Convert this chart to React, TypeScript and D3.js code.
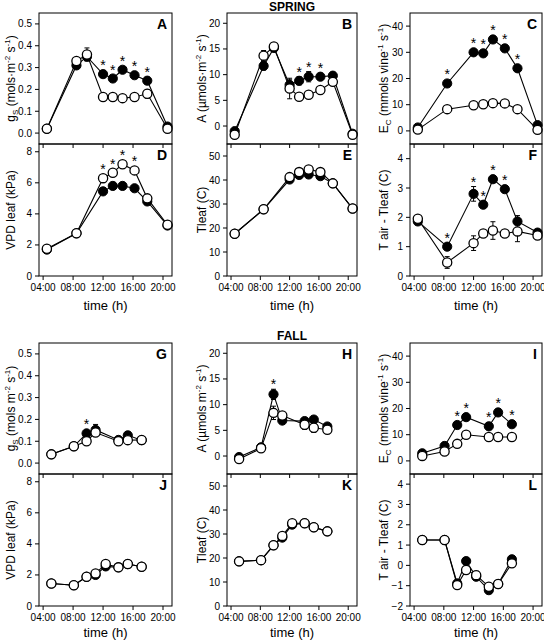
import React from 'react';
import * as d3 from 'd3';

// ---------- shared axis data ----------
const hourTicks = [4, 8, 12, 16, 20];
const hourTickLabels = ['04:00', '08:00', '12:00', '16:00', '20:00'];

// ---------- time points ----------
const springT9 = [4.5, 8.45, 9.85, 12.0, 13.3, 14.6, 16.2, 17.9, 20.6];
const springT8 = [4.5, 8.45, 12.0, 13.3, 14.6, 16.2, 17.9, 20.6];
const fallT7 = [5.1, 8.1, 9.8, 11.0, 14.05, 15.3, 17.15];
const fallT8 = [5.1, 8.1, 9.8, 11.0, 12.35, 14.05, 15.3, 17.15];

// ---------- SPRING ----------
const gsSpringFilled = [0.02, 0.31, 0.35, 0.27, 0.25, 0.29, 0.265, 0.24, 0.03];
const gsSpringFilledErr = [0, 0.01, 0.015, 0.015, 0.01, 0.01, 0.015, 0.015, 0];
const gsSpringOpen = [0.02, 0.33, 0.36, 0.165, 0.165, 0.16, 0.165, 0.18, 0.02];
const gsSpringOpenErr = [0, 0.01, 0.03, 0.01, 0.01, 0.01, 0.01, 0.02, 0];
const gsSpringStars = [3, 4, 5, 6, 7];

const aSpringFilled = [-1.0, 11.7, 15.2, 8.0, 8.8, 9.6, 9.6, 9.8, -1.5];
const aSpringFilledErr = [0.3, 0.8, 0.5, 1.0, 0.8, 1.0, 0.6, 0.5, 0.3];
const aSpringOpen = [-1.7, 13.7, 15.5, 7.3, 5.7, 6.1, 7.0, 8.6, -1.7];
const aSpringOpenErr = [0.3, 1.0, 0.5, 2.0, 0.4, 0.4, 0.5, 0.5, 0.3];
const aSpringStars = [4, 5, 6];

const ecSpringFilled = [1.3, 18.1, 30.0, 29.6, 34.9, 31.5, 23.9, 2.2];
const ecSpringFilledErr = [0.5, 0.8, 0.8, 0.8, 0.8, 0.8, 0.8, 0.5];
const ecSpringOpen = [0.5, 8.3, 9.8, 10.2, 10.6, 10.5, 8.3, 0.4];
const ecSpringOpenErr = [0.3, 0.5, 0.5, 0.5, 0.5, 0.5, 0.5, 0.3];
const ecSpringStars = [1, 2, 3, 4, 5, 6];

const vpdSpringFilled = [1.7, 2.75, 5.45, 5.8, 5.8, 5.65, 4.8, 3.25];
const vpdSpringFilledErr = [0.05, 0.05, 0.1, 0.1, 0.1, 0.1, 0.1, 0.05];
const vpdSpringOpen = [1.75, 2.75, 6.3, 6.65, 7.2, 6.8, 5.0, 3.3];
const vpdSpringOpenErr = [0.05, 0.05, 0.1, 0.1, 0.1, 0.1, 0.1, 0.05];
const vpdSpringStars = [2, 3, 4, 5];

const tleafSpringFilled = [17.6, 27.8, 40.2, 42.1, 42.3, 41.6, 38.6, 28.1];
const tleafSpringFilledErr = [0.3, 0.3, 0.5, 0.5, 0.5, 0.5, 0.5, 0.3];
const tleafSpringOpen = [17.6, 27.8, 41.2, 43.3, 44.4, 43.3, 38.6, 28.1];
const tleafSpringOpenErr = [0.3, 0.3, 0.5, 0.5, 0.5, 0.5, 0.5, 0.3];

const dtSpringFilled = [1.86, 1.0, 2.8, 2.43, 3.3, 2.96, 1.86, 1.48];
const dtSpringFilledErr = [0.05, 0.05, 0.25, 0.05, 0.05, 0.05, 0.2, 0.05];
const dtSpringOpen = [1.95, 0.46, 1.12, 1.45, 1.55, 1.45, 1.52, 1.38];
const dtSpringOpenErr = [0.05, 0.2, 0.25, 0.1, 0.3, 0.05, 0.35, 0.05];
const dtSpringStars = [1, 2, 3, 4, 5];

// ---------- FALL ----------
const gsFallFilled = [0.04, 0.077, 0.136, 0.152, 0.106, 0.127, 0.105];
const gsFallFilledErr = [0, 0, 0.01, 0.025, 0.015, 0.015, 0];
const gsFallOpen = [0.04, 0.077, 0.1, 0.14, 0.1, 0.105, 0.106];
const gsFallOpenErr = [0, 0, 0.01, 0.01, 0.015, 0.01, 0];
const gsFallStars = [2];

const aFallFilled = [-0.2, 1.7, 12.0, 6.9, 6.8, 7.1, 5.75];
const aFallFilledErr = [0.2, 0.3, 1.0, 0.3, 0.5, 0.5, 0.4];
const aFallOpen = [-0.6, 1.5, 8.4, 7.9, 6.1, 5.5, 5.1];
const aFallOpenErr = [0.2, 0.3, 1.3, 0.3, 0.9, 0.9, 0.4];
const aFallStars = [2];

const ecFallFilled = [2.9, 5.7, 13.7, 16.7, 13.2, 18.5, 14.0];
const ecFallFilledErr = [0.5, 0.5, 0.5, 0.5, 0.5, 0.5, 0.5];
const ecFallOpen = [1.9, 3.6, 6.5, 10.0, 9.1, 9.1, 9.1];
const ecFallOpenErr = [0.3, 0.3, 0.3, 0.3, 0.3, 0.3, 0.3];
const ecFallStars = [2, 3, 4, 5, 6];

const vpdFallFilled = [1.45, 1.34, 1.88, 2.0, 2.55, 2.49, 2.7, 2.53];
const vpdFallFilledErr = [0.05, 0.05, 0.05, 0.05, 0.05, 0.05, 0.05, 0.05];
const vpdFallOpen = [1.45, 1.34, 1.88, 2.1, 2.7, 2.49, 2.7, 2.53];
const vpdFallOpenErr = [0.05, 0.05, 0.05, 0.05, 0.05, 0.05, 0.05, 0.05];

const tleafFallFilled = [18.6, 19.1, 25.3, 28.5, 33.9, 34.5, 32.8, 31.1];
const tleafFallFilledErr = [0.3, 0.3, 0.3, 0.3, 0.3, 0.3, 0.3, 0.3];
const tleafFallOpen = [18.6, 19.1, 25.3, 29.2, 34.5, 34.5, 32.8, 31.1];
const tleafFallOpenErr = [0.3, 0.3, 0.3, 0.3, 0.3, 0.3, 0.3, 0.3];

const dtFallFilled = [1.25, 1.25, -0.89, 0.21, -0.56, -1.22, -0.92, 0.3];
const dtFallFilledErr = [0.05, 0.05, 0.05, 0.15, 0.1, 0.1, 0.05, 0.05];
const dtFallOpen = [1.25, 1.25, -0.97, -0.23, -0.48, -1.05, -0.92, 0.1];
const dtFallOpenErr = [0.05, 0.05, 0.05, 0.05, 0.2, 0.1, 0.05, 0.05];

// ---------- axis ticks ----------
const gsTicks = [0, 0.1, 0.2, 0.3, 0.4, 0.5];
const aTicks = [0, 5, 10, 15, 20];
const ecTicks = [0, 10, 20, 30, 40];
const vpdTicks = [0, 2, 4, 6, 8];
const tleafTicks = [0, 10, 20, 30, 40, 50];
const dtSpringTicks = [0, 1, 2, 3, 4];
const dtFallTicks = [-2, -1, 0, 1, 2, 3, 4];

// ---------- axis labels (segments: n=normal, sub, sup) ----------
type Seg = [string, 'n' | 'sub' | 'sup'];
const gsLabelSpring: Seg[] = [['g', 'n'], ['S', 'sub'], [' (mols·m', 'n'], ['-2', 'sup'], [' s', 'n'], ['-1', 'sup'], [')', 'n']];
const gsLabelFall: Seg[] = [['g', 'n'], ['S', 'sub'], [' (mols m', 'n'], ['-2', 'sup'], [' s', 'n'], ['-1', 'sup'], [')', 'n']];
const aLabelSpring: Seg[] = [['A (µmols·m', 'n'], ['-2', 'sup'], [' s', 'n'], ['-1', 'sup'], [')', 'n']];
const aLabelFall: Seg[] = [['A (µmols m', 'n'], ['-2', 'sup'], [' s', 'n'], ['-1', 'sup'], [')', 'n']];
const ecLabel: Seg[] = [['E', 'n'], ['C', 'sub'], [' (mmols vine', 'n'], ['-1', 'sup'], [' s', 'n'], ['-1', 'sup'], [')', 'n']];
const vpdLabel: Seg[] = [['VPD leaf (kPa)', 'n']];
const tleafLabel: Seg[] = [['Tleaf (C)', 'n']];
const dtLabel: Seg[] = [['T air - Tleaf (C)', 'n']];

// ---------- layout ----------
const colX = [[39, 172], [227, 357], [410, 542]];
const labelOffset = [24, 21, 22];
const rowY = [[13, 144], [144, 276], [343, 474], [474, 606]];
const xDomain: [number, number] = [3.45, 21.2];
const FONT = 'Arial, "Liberation Sans", sans-serif';

interface PanelDef {
  letter: string;
  col: number;
  row: number;
  t: number[];
  f: number[]; fe: number[];
  o: number[]; oe: number[];
  domain: [number, number];
  ticks: number[];
  fmt: (v: number) => string;
  label: Seg[];
  stars: number[];
  xLabels: boolean;
}

const f1 = d3.format('.1f');
const f0 = d3.format('d');

const panels: PanelDef[] = [
  { letter: 'A', col: 0, row: 0, t: springT9, f: gsSpringFilled, fe: gsSpringFilledErr, o: gsSpringOpen, oe: gsSpringOpenErr, domain: [-0.05, 0.55], ticks: gsTicks, fmt: f1, label: gsLabelSpring, stars: gsSpringStars, xLabels: false },
  { letter: 'B', col: 1, row: 0, t: springT9, f: aSpringFilled, fe: aSpringFilledErr, o: aSpringOpen, oe: aSpringOpenErr, domain: [-3.5, 22], ticks: aTicks, fmt: f0, label: aLabelSpring, stars: aSpringStars, xLabels: false },
  { letter: 'C', col: 2, row: 0, t: springT8, f: ecSpringFilled, fe: ecSpringFilledErr, o: ecSpringOpen, oe: ecSpringOpenErr, domain: [-5, 45], ticks: ecTicks, fmt: f0, label: ecLabel, stars: ecSpringStars, xLabels: false },
  { letter: 'D', col: 0, row: 1, t: springT8, f: vpdSpringFilled, fe: vpdSpringFilledErr, o: vpdSpringOpen, oe: vpdSpringOpenErr, domain: [0, 8.5], ticks: vpdTicks, fmt: f0, label: vpdLabel, stars: vpdSpringStars, xLabels: true },
  { letter: 'E', col: 1, row: 1, t: springT8, f: tleafSpringFilled, fe: tleafSpringFilledErr, o: tleafSpringOpen, oe: tleafSpringOpenErr, domain: [0, 55], ticks: tleafTicks, fmt: f0, label: tleafLabel, stars: [], xLabels: true },
  { letter: 'F', col: 2, row: 1, t: springT8, f: dtSpringFilled, fe: dtSpringFilledErr, o: dtSpringOpen, oe: dtSpringOpenErr, domain: [0, 4.5], ticks: dtSpringTicks, fmt: f0, label: dtLabel, stars: dtSpringStars, xLabels: true },
  { letter: 'G', col: 0, row: 2, t: fallT7, f: gsFallFilled, fe: gsFallFilledErr, o: gsFallOpen, oe: gsFallOpenErr, domain: [-0.05, 0.55], ticks: gsTicks, fmt: f1, label: gsLabelFall, stars: gsFallStars, xLabels: false },
  { letter: 'H', col: 1, row: 2, t: fallT7, f: aFallFilled, fe: aFallFilledErr, o: aFallOpen, oe: aFallOpenErr, domain: [-3.5, 22], ticks: aTicks, fmt: f0, label: aLabelFall, stars: aFallStars, xLabels: false },
  { letter: 'I', col: 2, row: 2, t: fallT7, f: ecFallFilled, fe: ecFallFilledErr, o: ecFallOpen, oe: ecFallOpenErr, domain: [-5, 45], ticks: ecTicks, fmt: f0, label: ecLabel, stars: ecFallStars, xLabels: false },
  { letter: 'J', col: 0, row: 3, t: fallT8, f: vpdFallFilled, fe: vpdFallFilledErr, o: vpdFallOpen, oe: vpdFallOpenErr, domain: [0, 8.5], ticks: vpdTicks, fmt: f0, label: vpdLabel, stars: [], xLabels: true },
  { letter: 'K', col: 1, row: 3, t: fallT8, f: tleafFallFilled, fe: tleafFallFilledErr, o: tleafFallOpen, oe: tleafFallOpenErr, domain: [0, 55], ticks: tleafTicks, fmt: f0, label: tleafLabel, stars: [], xLabels: true },
  { letter: 'L', col: 2, row: 3, t: fallT8, f: dtFallFilled, fe: dtFallFilledErr, o: dtFallOpen, oe: dtFallOpenErr, domain: [-2, 4.5], ticks: dtFallTicks, fmt: f0, label: dtLabel, stars: [], xLabels: true },
];

function AxisLabel({ segs, x, y }: { segs: Seg[]; x: number; y: number }) {
  let cur = 0;
  const parts = segs.map((s, i) => {
    const target = s[1] === 'sub' ? 3 : s[1] === 'sup' ? -5 : 0;
    const dy = target - cur;
    cur = target;
    return (
      <tspan key={i} dy={dy} fontSize={s[1] === 'n' ? 12 : 8}>{s[0]}</tspan>
    );
  });
  return (
    <text transform={`translate(${x},${y}) rotate(-90)`} textAnchor="middle" fontSize={12} fontFamily={FONT} fill="#000">
      {parts}
    </text>
  );
}

function Panel({ p }: { p: PanelDef }) {
  const [x0, x1] = colX[p.col];
  const [y0, y1] = rowY[p.row];
  const x = d3.scaleLinear().domain(xDomain).range([x0, x1]);
  const y = d3.scaleLinear().domain(p.domain).range([y1, y0]);
  const line = d3.line<number>().x((_, i) => x(p.t[i])).y((d) => y(d));
  const r = 4.6;

  const errBars = (vals: number[], errs: number[], key: string) =>
    vals.map((v, i) => {
      const e = errs[i];
      if (!e) return null;
      const cx = x(p.t[i]);
      const yt = y(v + e), yb = y(v - e);
      return (
        <g key={key + i} stroke="#000" strokeWidth={1}>
          <line x1={cx} x2={cx} y1={yt} y2={yb} />
          <line x1={cx - 2.5} x2={cx + 2.5} y1={yt} y2={yt} />
          <line x1={cx - 2.5} x2={cx + 2.5} y1={yb} y2={yb} />
        </g>
      );
    });

  return (
    <g>
      {/* y ticks */}
      {p.ticks.map((v) => (
        <g key={'yt' + v}>
          <line x1={x0 - 4} x2={x0} y1={y(v)} y2={y(v)} stroke="#000" strokeWidth={1} />
          <text x={x0 - 7} y={y(v)} dy="0.35em" textAnchor="end" fontSize={10} fontFamily={FONT}>{p.fmt(v)}</text>
        </g>
      ))}
      {/* x ticks */}
      {hourTicks.map((h, i) => (
        <g key={'xt' + h}>
          <line x1={x(h)} x2={x(h)} y1={y1} y2={y1 + 4} stroke="#000" strokeWidth={1} />
          {p.xLabels && (
            <text x={x(h)} y={y1 + 15} textAnchor="middle" fontSize={10} fontFamily={FONT}>{hourTickLabels[i]}</text>
          )}
        </g>
      ))}
      <AxisLabel segs={p.label} x={x0 - labelOffset[p.col]} y={(y0 + y1) / 2} />
      {/* error bars */}
      {errBars(p.f, p.fe, 'ef')}
      {errBars(p.o, p.oe, 'eo')}
      {/* lines */}
      <path d={line(p.f) || ''} fill="none" stroke="#000" strokeWidth={1.1} />
      <path d={line(p.o) || ''} fill="none" stroke="#000" strokeWidth={1.1} />
      {/* markers */}
      {p.f.map((v, i) => (
        <circle key={'cf' + i} cx={x(p.t[i])} cy={y(v)} r={r} fill="#000" stroke="#000" strokeWidth={1} />
      ))}
      {p.o.map((v, i) => (
        <circle key={'co' + i} cx={x(p.t[i])} cy={y(v)} r={r} fill="#fff" stroke="#000" strokeWidth={1.3} />
      ))}
      {/* significance stars */}
      {p.stars.map((i) => {
        const c = Math.min(
          y(p.f[i]) - 12, y(p.f[i] + p.fe[i]) - 8,
          y(p.o[i]) - 12, y(p.o[i] + p.oe[i]) - 8,
        );
        return (
          <text key={'s' + i} x={x(p.t[i])} y={c + 8} textAnchor="middle" fontSize={14} fontFamily={FONT}>*</text>
        );
      })}
      {/* frame */}
      <rect x={x0} y={y0} width={x1 - x0} height={y1 - y0} fill="none" stroke="#000" strokeWidth={1} />
      <text x={x1 - 5} y={y0 + 16} textAnchor="end" fontSize={14} fontWeight="bold" fontFamily={FONT}>{p.letter}</text>
    </g>
  );
}

export default function App() {
  return (
    <svg width={544} height={643} style={{ position: 'absolute', left: 0, top: 0, background: '#fff' }}>
      <rect x={0} y={0} width={544} height={643} fill="#fff" />
      <text x={(colX[1][0] + colX[1][1]) / 2} y={11} textAnchor="middle" fontSize={12} fontWeight="bold" fontFamily={FONT}>SPRING</text>
      <text x={(colX[1][0] + colX[1][1]) / 2} y={rowY[2][0] - 3} textAnchor="middle" fontSize={12} fontWeight="bold" fontFamily={FONT}>FALL</text>
      {panels.map((p) => <Panel key={p.letter} p={p} />)}
      {[0, 1, 2].map((c) => (
        <g key={'tl' + c}>
          <text x={(colX[c][0] + colX[c][1]) / 2} y={rowY[1][1] + 34} textAnchor="middle" fontSize={13} fontFamily={FONT}>time (h)</text>
          <text x={(colX[c][0] + colX[c][1]) / 2} y={rowY[3][1] + 31} textAnchor="middle" fontSize={13} fontFamily={FONT}>time (h)</text>
        </g>
      ))}
    </svg>
  );
}
